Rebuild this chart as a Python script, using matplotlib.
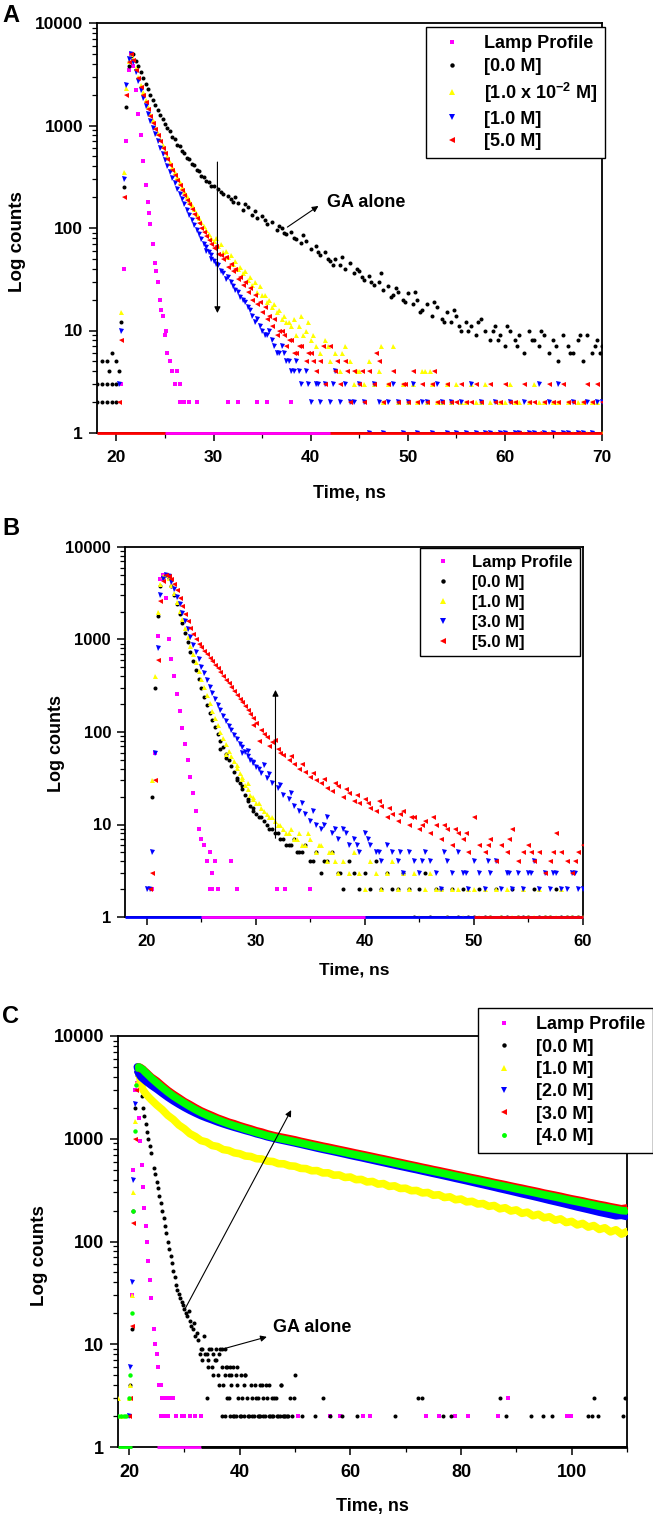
import numpy as np
import matplotlib
matplotlib.use("Agg")
import matplotlib.pyplot as plt
from matplotlib.ticker import FixedLocator, MultipleLocator, LogLocator, NullFormatter, FuncFormatter

# ---------------------------------------------------------------- DATA
# shared early-time channel grid (ns) for panels A and B
t_early = [18.0, 18.5, 19.0, 19.5, 20.0,
           20.25, 20.5, 20.75, 21.0, 21.25, 21.5, 21.75, 22.0, 22.25, 22.5,
           22.75, 23.0, 23.25, 23.5, 23.75, 24.0, 24.25, 24.5, 24.75, 25.0,
           25.25, 25.5, 25.75, 26.0, 26.25, 26.5, 26.75, 27.0, 27.25, 27.5,
           27.75, 28.0, 28.25, 28.5, 28.75, 29.0, 29.25, 29.5, 29.75, 30.0]
tA_tail = [30.5, 31.0, 31.5, 32.0, 32.5, 33.0, 33.5, 34.0, 34.5, 35.0,
           35.5, 36.0, 36.5, 37.0, 37.5, 38.0, 38.5, 39.0, 39.5, 40.0,
           40.5, 41.0, 41.5, 42.0, 42.5, 43.0, 43.5, 44.0, 44.5, 45.0,
           45.5, 46.0, 46.5, 47.0, 47.5, 48.0, 48.5, 49.0, 49.5, 50.0,
           50.5, 51.0, 51.5, 52.0, 52.5, 53.0, 53.5, 54.0, 54.5, 55.0,
           55.5, 56.0, 56.5, 57.0, 57.5, 58.0, 58.5, 59.0, 59.5, 60.0,
           60.5, 61.0, 61.5, 62.0, 62.5, 63.0, 63.5, 64.0, 64.5, 65.0,
           65.5, 66.0, 66.5, 67.0, 67.5, 68.0, 68.5, 69.0, 69.5, 70.0]
tB_tail = [30.5, 31.0, 31.5, 32.0, 32.5, 33.0, 33.5, 34.0, 34.5, 35.0,
           35.5, 36.0, 36.5, 37.0, 37.5, 38.0, 38.5, 39.0, 39.5, 40.0,
           40.5, 41.0, 41.5, 42.0, 42.5, 43.0, 43.5, 44.0, 44.5, 45.0,
           45.5, 46.0, 46.5, 47.0, 47.5, 48.0, 48.5, 49.0, 49.5, 50.0,
           50.5, 51.0, 51.5, 52.0, 52.5, 53.0, 53.5, 54.0, 54.5, 55.0,
           55.5, 56.0, 56.5, 57.0, 57.5, 58.0, 58.5, 59.0, 59.5, 60.0]

# ---- Panel A
labels_A = ["Lamp Profile", "[0.0 M]", "[1.0 x 10$^{-2}$ M]", "[1.0 M]", "[5.0 M]"]
lamp_A_early = [0, 0, 0, 0, 0,
                0, 3, 40, 700, 3500, 5000, 3800, 2200, 1300, 800,
                450, 260, 180, 110, 70, 46, 30, 20, 14, 9,
                6, 5, 4, 3, 4, 2, 0, 2, 0, 0,
                0, 0, 2, 0, 0, 0, 0, 0, 0, 0]
lamp_A_extra_t = [31.5, 32.5, 34.5, 35.5, 38.0, 26.5, 27.5, 23.4, 24.1, 24.6, 25.1]
lamp_A_extra_c = [2, 2, 2, 2, 2, 3, 2, 140, 38, 16, 10]
black_A_early = [3, 5, 5, 6, 5,
                 4, 12, 250, 1500, 3800, 4800, 5000, 4300, 3800, 3300,
                 2900, 2550, 2250, 2000, 1780, 1600, 1420, 1280, 1150, 1040,
                 950, 880, 770, 735, 650, 625, 560, 540, 480, 470,
                 420, 410, 370, 360, 320, 318, 290, 282, 255, 258]
black_A_tail = [240, 215, 205, 180, 175, 150, 160, 135, 125, 130,
                110, 115, 95, 100, 88, 92, 78, 72, 75, 62,
                66, 55, 58, 48, 50, 44, 40, 46, 36, 38,
                31, 34, 28, 30, 25, 27, 22, 24, 20, 23,
                18, 20, 16, 18, 14, 17, 13, 15, 12, 14,
                10, 12, 11, 9, 13, 10, 8, 11, 9, 7,
                10, 8, 9, 6, 10, 8, 7, 9, 6, 8,
                5, 9, 7, 6, 8, 5, 9, 6, 8, 7]
black_A_extra_t = [18.0, 18.5, 18.5, 19.0, 19.0, 19.5, 19.5, 20.0, 20.0, 19.25,
                   33.25, 35.25, 36.75, 38.25, 39.25, 40.75, 41.75, 43.25, 44.75, 46.25,
                   47.25, 48.75, 49.75, 50.75, 51.25, 52.75, 53.75, 54.75, 56.25, 57.25,
                   58.75, 60.25, 61.25, 62.75, 63.75, 65.25, 66.75, 67.75, 69.25, 69.75,
                   30.75, 31.75, 32.25, 34.25, 37.25, 42.25, 45.25, 48.25, 55.25, 59.25]
black_A_extra_c = [2, 2, 3, 2, 3, 3, 2, 3, 2, 4,
                   170, 120, 105, 80, 85, 58, 50, 52, 40, 30,
                   36, 26, 19, 24, 15, 19, 12, 16, 10, 12,
                   10, 11, 7, 8, 10, 7, 6, 9, 7, 6,
                   225, 190, 200, 145, 90, 44, 33, 21, 11, 8]
yellow_A_early = [0, 0, 0, 0, 0,
                  0, 15, 350, 2300, 4300, 5000, 4500, 3600, 3000, 2500,
                  2100, 1780, 1520, 1300, 1120, 970, 850, 740, 650, 570,
                  500, 445, 395, 350, 315, 280, 252, 228, 205, 186,
                  168, 152, 138, 126, 114, 104, 95, 88, 80, 74]
yellow_A_tail = [66, 58, 52, 45, 40, 36, 31, 28, 24, 22,
                 19, 17, 15, 13, 12, 11, 9, 14, 10, 8,
                 7, 6, 8, 5, 6, 4, 7, 5, 3, 4,
                 3, 5, 3, 4, 2, 3, 7, 2, 3, 2,
                 3, 2, 4, 2, 3, 2, 2, 3, 2, 3,
                 2, 2, 3, 2, 2, 3, 2, 1, 2, 2,
                 3, 2, 2, 1, 2, 3, 2, 2, 1, 2,
                 2, 1, 2, 1, 2, 2, 1, 2, 2, 1]
yellow_A_extra_t = [30.25, 30.75, 31.25, 31.75, 32.25, 32.75, 33.25, 33.75, 34.25, 34.75,
                    35.25, 35.75, 36.25, 36.75, 37.25, 37.75, 38.25, 38.75, 39.25, 39.75,
                    40.25, 41.75, 43.25, 44.75, 47.25, 51.75, 52.25]
yellow_A_extra_c = [80, 70, 60, 55, 48, 42, 38, 33, 30, 27,
                    22, 20, 18, 16, 14, 12, 13, 11, 9, 12,
                    9, 7, 6, 4, 7, 4, 4]
blue_A_early = [0, 0, 0, 0, 0,
                3, 10, 300, 2500, 4500, 5000, 4200, 3300, 2700, 2200,
                1850, 1550, 1300, 1100, 950, 820, 700, 610, 530, 460,
                400, 350, 310, 275, 240, 215, 190, 170, 150, 135,
                120, 108, 96, 88, 78, 70, 65, 58, 54, 48]
blue_A_tail = [44, 36, 33, 27, 24, 20, 17, 14, 13, 10,
               9, 8, 6, 7, 5, 4, 5, 3, 4, 2,
               3, 2, 3, 2, 4, 2, 3, 2, 2, 3,
               2, 1, 3, 2, 1, 2, 3, 2, 1, 2,
               3, 1, 2, 2, 1, 3, 2, 1, 2, 1,
               2, 1, 3, 1, 2, 1, 1, 2, 1, 1,
               2, 1, 1, 2, 1, 1, 3, 1, 2, 1,
               3, 1, 1, 2, 1, 1, 2, 1, 2, 2]
blue_A_extra_t = [29.25, 29.75, 30.25, 30.75, 31.25, 31.75, 32.25, 32.75, 33.25, 33.75,
                  34.25, 34.75, 35.25, 35.75, 36.25, 36.75, 37.25, 37.75, 38.25, 38.75,
                  39.75, 40.75, 42.25]
blue_A_extra_c = [60, 50, 45, 38, 32, 30, 25, 21, 19, 16,
                  12, 11, 9, 10, 7, 6, 6, 5, 4, 4,
                  3, 3, 3]
red_A_early = [0, 0, 0, 0, 0,
               2, 8, 200, 2000, 4200, 5000, 4400, 3500, 2900, 2400,
               2000, 1700, 1450, 1230, 1060, 920, 800, 700, 610, 540,
               470, 415, 370, 330, 295, 262, 235, 210, 188, 170,
               152, 138, 124, 112, 100, 92, 84, 76, 70, 64]
red_A_tail = [56, 50, 42, 38, 32, 28, 24, 20, 18, 15,
              13, 11, 9, 10, 7, 8, 6, 7, 5, 6,
              4, 5, 3, 7, 4, 3, 5, 2, 4, 3,
              2, 4, 3, 5, 2, 3, 4, 2, 3, 2,
              4, 2, 3, 2, 3, 2, 2, 3, 2, 2,
              3, 2, 2, 3, 2, 1, 3, 2, 2, 3,
              2, 2, 1, 3, 2, 2, 1, 2, 3, 2,
              2, 3, 2, 2, 1, 2, 3, 2, 3, 2]
red_A_extra_t = [30.25, 30.75, 31.25, 31.75, 32.25, 32.75, 33.25, 33.75, 34.25, 34.75,
                 35.25, 35.75, 36.25, 36.75, 37.25, 37.75, 38.25, 38.75, 39.75, 40.25,
                 41.25, 42.75, 43.75, 45.25, 46.75, 49.75, 52.75]
red_A_extra_c = [66, 55, 52, 45, 40, 33, 30, 26, 22, 19,
                 17, 14, 13, 10, 9, 8, 6, 7, 6, 5,
                 7, 5, 4, 4, 6, 3, 4]
floor_A_red_t = [18.0, 70.0]
floor_A_magenta_t = [25.0, 42.0]

# ---- Panel B
labels_B = ["Lamp Profile", "[0.0 M]", "[1.0 M]", "[3.0 M]", "[5.0 M]"]
lamp_B_early = [0, 0, 0, 0, 0,
                0, 2, 60, 1100, 4500, 5000, 2800, 1000, 620, 400,
                260, 170, 110, 75, 50, 33, 22, 14, 9, 7,
                6, 4, 5, 3, 4, 2, 0, 0, 0, 0,
                0, 0, 2, 0, 0, 0, 0, 0, 0, 0]
lamp_B_extra_t = [25.75, 26.0, 26.5, 27.75, 28.25, 31.9, 32.7, 35.0]
lamp_B_extra_c = [2, 2, 2, 4, 2, 2, 2, 2]
black_B_early = [0, 0, 0, 0, 0,
                 0, 20, 300, 1800, 3800, 4700, 5000, 4600, 3800, 3000,
                 2400, 1900, 1500, 1180, 930, 740, 590, 470, 370, 300,
                 240, 195, 160, 135, 112, 95, 80, 68, 58, 50,
                 43, 37, 32, 28, 24, 21, 19, 16, 15, 13]
black_B_tail = [12, 10, 9, 8, 7, 6, 7, 5, 6, 4,
                5, 3, 4, 5, 3, 2, 4, 3, 2, 3,
                2, 4, 2, 3, 2, 2, 3, 2, 1, 2,
                3, 1, 2, 2, 1, 2, 1, 2, 1, 1,
                2, 1, 1, 2, 1, 1, 2, 1, 1, 1,
                2, 1, 1, 1, 2, 1, 1, 1, 1, 1]
black_B_extra_t = [26.75, 27.25, 28.25, 28.75, 29.25, 29.75, 30.25, 30.75, 31.25, 31.75,
                   32.25, 32.75, 33.25, 33.75, 34.25, 35.25, 36.25, 37.75]
black_B_extra_c = [65, 52, 30, 26, 18, 14, 12, 11, 9, 8,
                   7, 6, 6, 5, 5, 4, 4, 3]
yellow_B_early = [0, 0, 0, 0, 0,
                  0, 30, 400, 2000, 4000, 4800, 5000, 4600, 3900, 3150,
                  2550, 2050, 1650, 1320, 1060, 860, 700, 570, 460, 375,
                  305, 250, 205, 170, 142, 120, 100, 86, 74, 63,
                  55, 48, 41, 36, 31, 27, 24, 21, 19, 17]
yellow_B_tail = [15, 13, 12, 10, 9, 8, 7, 8, 6, 7,
                 5, 6, 4, 5, 3, 4, 3, 5, 3, 2,
                 4, 3, 2, 3, 4, 2, 3, 2, 3, 1,
                 2, 3, 2, 2, 1, 2, 2, 1, 2, 2,
                 1, 2, 1, 2, 1, 2, 1, 1, 2, 1,
                 1, 2, 1, 1, 1, 2, 1, 1, 1, 1]
yellow_B_extra_t = [27.25, 28.25, 28.75, 29.25, 29.75, 30.25, 30.75, 31.25, 31.75, 32.25,
                    32.75, 33.25, 33.75, 34.25, 34.75, 35.75, 36.75, 37.25]
yellow_B_extra_c = [58, 44, 33, 28, 20, 17, 14, 12, 11, 10,
                    8, 9, 7, 6, 8, 6, 5, 4]
blue_B_early = [0, 0, 0, 0, 2,
                2, 5, 60, 800, 3000, 4500, 5000, 4800, 4200, 3500,
                2900, 2400, 1950, 1600, 1300, 1060, 880, 730, 610, 510,
                430, 365, 310, 265, 228, 198, 172, 150, 132, 117,
                104, 93, 84, 75, 68, 61, 55, 50, 46, 42]
blue_B_tail = [36, 32, 28, 25, 21, 19, 16, 14, 13, 11,
               10, 9, 12, 8, 7, 9, 6, 7, 5, 8,
               6, 5, 4, 6, 5, 4, 3, 5, 4, 3,
               5, 4, 3, 2, 4, 3, 5, 3, 2, 4,
               3, 2, 3, 4, 2, 3, 2, 3, 2, 3,
               4, 2, 3, 2, 3, 2, 2, 3, 2, 2]
blue_B_extra_t = [31.25, 32.25, 33.25, 34.25, 35.25, 36.25, 37.25, 38.25, 39.25, 40.25,
                  41.25, 43.25, 45.25, 47.25, 49.25, 51.25, 53.25, 55.25, 57.25, 59.25,
                  28.75, 29.25, 29.75, 30.25, 30.75]
blue_B_extra_c = [35, 27, 22, 17, 14, 10, 9, 8, 6, 7,
                  5, 5, 4, 5, 3, 4, 3, 3, 3, 3,
                  60, 62, 47, 40, 44]
red_B_early = [0, 0, 0, 0, 0,
               2, 3, 30, 600, 2600, 4300, 5000, 4900, 4500, 4000,
               3400, 2800, 2300, 1900, 1580, 1330, 1150, 1000, 900, 820,
               750, 690, 635, 585, 535, 490, 445, 400, 365, 335,
               305, 275, 250, 230, 210, 190, 172, 155, 140, 125]
red_B_tail = [105, 88, 78, 66, 56, 50, 45, 40, 37, 33,
              30, 28, 25, 23, 26, 20, 22, 18, 17, 19,
              15, 14, 16, 12, 13, 11, 14, 10, 12, 9,
              11, 8, 10, 7, 9, 6, 8, 7, 5, 12,
              6, 5, 7, 4, 6, 5, 9, 4, 5, 6,
              4, 5, 3, 4, 8, 5, 4, 3, 5, 6]
red_B_extra_t = [33.25, 34.25, 35.25, 36.25, 37.25, 38.25, 39.25, 40.25, 41.25, 42.25,
                 43.25, 44.25, 45.25, 46.25, 47.25, 48.25, 49.25, 51.25, 53.25, 55.25,
                 57.25, 59.25, 29.75, 30.25, 30.75, 31.25, 31.75, 32.25]
red_B_extra_c = [55, 45, 36, 31, 28, 24, 21, 17, 18, 15,
                 13, 12, 10, 12, 10, 9, 8, 6, 7, 5,
                 5, 4, 120, 80, 95, 70, 82, 60]
floor_B_blue_t = [18.0, 60.0]
floor_B_magenta_t = [25.0, 40.0]
floor_B_red_t = [50.0, 60.0]

# ---- Panel C
labels_C = ["Lamp Profile", "[0.0 M]", "[1.0 M]", "[2.0 M]", "[3.0 M]", "[4.0 M]"]
tC_early = [18.0, 18.5, 19.0, 19.5, 20.0,
            20.25, 20.5, 20.75, 21.0, 21.25, 21.5, 21.75, 22.0, 22.25, 22.5,
            22.75, 23.0, 23.25, 23.5, 23.75, 24.0]
tC_fine = [24.5, 25.0, 25.5, 26.0, 26.5, 27.0, 27.5, 28.0, 28.5, 29.0,
           29.5, 30.0, 30.5, 31.0, 31.5, 32.0, 32.5, 33.0, 33.5, 34.0,
           34.5, 35.0, 35.5, 36.0, 36.5, 37.0, 37.5, 38.0, 38.5, 39.0,
           39.5, 40.0, 40.5, 41.0, 41.5, 42.0, 42.5, 43.0, 43.5, 44.0,
           44.5, 45.0, 45.5, 46.0, 46.5, 47.0, 47.5, 48.0, 48.5, 49.0,
           49.5, 50.0]
tC_coarse = [25, 26, 27, 28, 29, 30, 31, 32, 33, 34,
             35, 36, 37, 38, 39, 40, 41, 42, 43, 44,
             45, 46, 47, 48, 49, 50, 51, 52, 53, 54,
             55, 56, 57, 58, 59, 60, 61, 62, 63, 64,
             65, 66, 67, 68, 69, 70, 71, 72, 73, 74,
             75, 76, 77, 78, 79, 80, 81, 82, 83, 84,
             85, 86, 87, 88, 89, 90, 91, 92, 93, 94,
             95, 96, 97, 98, 99, 100, 101, 102, 103, 104,
             105, 106, 107, 108, 109, 110]
lamp_C_early = [0, 0, 0, 0, 0, 2, 30, 500, 3000, 5000, 3500, 1600, 950, 560, 340,
                210, 140, 100, 65, 42, 28]
lamp_C_extra_t = [24.5, 24.75, 25.0, 25.25, 25.5, 25.75, 26.0, 26.5, 27.0, 27.5, 28.0,
                  25.75, 26.25, 27.0, 28.5, 29.5, 30.0, 31.0, 32.0, 33.0,
                  50.6, 56.3, 58.2, 62.3, 63.5, 73.7, 76.0, 79.0, 81.3, 86.6, 88.5, 99.1, 99.9]
lamp_C_extra_c = [14, 10, 8, 6, 4, 4, 3, 3, 3, 3, 3,
                  2, 2, 2, 2, 2, 2, 2, 2, 2,
                  2, 2, 2, 2, 2, 2, 2, 2, 2, 2, 3, 2, 2]
black_C_early = [0, 0, 0, 0, 0, 4, 14, 200, 2000, 4500, 5000, 4200, 3300, 2600, 2000,
                 1650, 1380, 1170, 1000, 850, 730]
black_C_fine = [520, 380, 275, 200, 140, 100, 72, 52, 38, 31,
                26, 22, 19, 17, 14, 12, 11, 9, 12, 8,
                9, 6, 7, 5, 9, 4, 6, 3, 5, 2,
                4, 2, 3, 5, 2, 4, 2, 3, 2, 4,
                2, 3, 2, 2, 3, 2, 4, 2, 2, 3,
                2, 5]
black_C_extra_t = [33.25, 34.75, 35.75, 36.75, 37.25, 32.75, 33.75, 35.25, 36.25,
                   33.25, 34.25, 35.75, 34.25, 36.75, 37.75, 38.25, 38.75, 39.5,
                   35.25, 37.25, 38.0, 39.25, 40.25, 41.0,
                   36.25, 38.5, 40.75, 42.75, 43.75, 44.75, 45.25, 47.5,
                   34.0, 37.75, 39.75, 41.25, 42.25, 43.25, 44.25, 45.75, 46.25, 49.75,
                   36.75, 37.25, 38.25, 38.75, 39.25, 40.25, 40.75, 41.75, 42.25, 43.25,
                   43.75, 44.25, 45.25, 45.75, 46.75, 47.25, 47.75, 48.25, 48.75,
                   51.3, 53.6, 56.3, 58.5, 61.2, 68.0, 76.7, 78.2, 88.1, 92.6,
                   94.9, 96.4, 102.9, 103.6, 104.8, 109.3,
                   55.1, 72.2, 72.9, 87.0, 104.0, 109.7,
                   24.75, 25.25, 25.75, 26.25, 26.75, 27.25, 27.75, 28.25, 28.75, 29.25,
                   29.75, 30.25, 30.75, 31.25, 31.75, 32.25]
black_C_extra_c = [9, 9, 9, 9, 9, 8, 8, 8, 8,
                   7, 7, 7, 6, 6, 6, 6, 6, 6,
                   5, 5, 5, 5, 5, 5,
                   4, 4, 4, 4, 4, 4, 4, 4,
                   3, 3, 3, 3, 3, 3, 3, 3, 3, 3,
                   2, 2, 2, 2, 2, 2, 2, 2, 2, 2,
                   2, 2, 2, 2, 2, 2, 2, 2, 2,
                   2, 2, 2, 2, 2, 2, 2, 2, 2, 2,
                   2, 2, 2, 2, 2, 2,
                   3, 3, 3, 3, 3, 3,
                   450, 330, 235, 170, 120, 85, 62, 45, 34, 28,
                   24, 20, 21, 15, 16, 13]
yellow_C_early = [3, 2, 0, 0, 3, 4, 30, 300, 1500, 3500, 4300, 4500, 3800, 3300, 3000,
                  2870, 2750, 2650, 2560, 2480, 2400]
yellow_C_late = [2130, 1920, 1690, 1540, 1360, 1250, 1120, 1050, 960, 930,
                 860, 840, 785, 770, 730, 715, 680, 672, 640, 635,
                 606, 600, 572, 570, 545, 540, 515, 512, 488, 490,
                 465, 466, 442, 444, 420, 424, 400, 402, 380, 384,
                 362, 366, 344, 348, 328, 330, 312, 314, 297, 300,
                 282, 285, 268, 272, 255, 259, 243, 246, 232, 234,
                 220, 224, 208, 213, 198, 203, 188, 193, 178, 184,
                 170, 174, 161, 166, 153, 157, 145, 150, 138, 143,
                 131, 136, 124, 130, 118, 125]
blue_C_early = [0, 0, 0, 0, 2, 6, 40, 400, 2200, 4300, 5000, 4500, 4100, 3950, 3850,
                3750, 3650, 3560, 3480, 3400, 3320]
blue_C_late = [3050, 2780, 2540, 2340, 2170, 2020, 1890, 1780, 1680, 1600,
               1530, 1460, 1400, 1345, 1295, 1250, 1205, 1165, 1120, 1085,
               1045, 1015, 985, 960, 935, 910, 885, 860, 836, 812,
               790, 770, 750, 730, 710, 690, 672, 655, 637, 620,
               603, 587, 571, 556, 541, 527, 513, 500, 486, 473,
               460, 448, 436, 424, 412, 401, 390, 379, 368, 358,
               348, 338, 328, 319, 310, 301, 292, 284, 276, 268,
               260, 252, 245, 238, 231, 224, 217, 211, 205, 199,
               193, 188, 183, 178, 180, 175]
red_C_early = [0, 0, 0, 0, 2, 3, 15, 150, 1000, 3000, 4700, 5000, 4950, 4850, 4750,
               4600, 4480, 4350, 4220, 4100, 3980]
red_C_late = [3650, 3280, 2960, 2710, 2500, 2300, 2150, 2000, 1870, 1770,
              1680, 1590, 1520, 1450, 1400, 1340, 1290, 1245, 1195, 1160,
              1115, 1080, 1050, 1025, 1000, 975, 945, 920, 895, 872,
              848, 828, 806, 785, 765, 745, 725, 707, 689, 671,
              653, 637, 620, 603, 588, 572, 557, 543, 528, 515,
              501, 489, 476, 464, 451, 440, 428, 417, 407, 396,
              386, 375, 366, 357, 347, 338, 330, 321, 313, 305,
              296, 289, 282, 275, 267, 260, 254, 248, 241, 235,
              229, 224, 218, 213, 208, 212]
green_C_early = [2, 2, 2, 2, 3, 5, 20, 200, 1200, 3300, 4800, 5000, 4900, 4800, 4700,
                 4550, 4400, 4280, 4150, 4030, 3900]
green_C_late = [3500, 3150, 2850, 2600, 2400, 2220, 2060, 1920, 1800, 1700,
                1610, 1530, 1460, 1395, 1340, 1290, 1240, 1195, 1150, 1110,
                1070, 1040, 1010, 985, 960, 935, 910, 885, 860, 838,
                815, 795, 775, 755, 735, 715, 697, 680, 662, 645,
                628, 612, 596, 580, 565, 550, 536, 522, 508, 495,
                482, 470, 458, 446, 434, 423, 412, 401, 391, 381,
                371, 361, 352, 343, 334, 325, 317, 309, 301, 293,
                285, 278, 271, 264, 257, 250, 244, 238, 232, 226,
                220, 215, 210, 205, 200, 198]
floor_C_green_t = [18.0, 20.5]
floor_C_magenta_t = [25.0, 33.0]
floor_C_black_t = [33.0, 110.0]

floor_count = 1

# annotation anchors (data units)
arrowA_down = ((30.4, 440), (30.4, 14.8))
arrowA_ga = ((37.6, 102), (40.8, 164))
textA_ga = (41.65, 179)
arrowB_up = ((31.8, 7.1), (31.8, 285))
arrowC_up = ((30.0, 21.5), (49.3, 1900))
arrowC_ga = ((37.3, 9.1), (44.9, 11.8))
textC_ga = (46.0, 14.4)

# ---------------------------------------------------------------- STYLE
plt.rcParams["font.family"] = ["Liberation Sans", "DejaVu Sans"]
plt.rcParams["font.weight"] = "bold"
plt.rcParams["axes.labelweight"] = "bold"
plt.rcParams["mathtext.default"] = "regular"

MAG, BLK, YEL, BLU, RED, GRN = "#ff00ff", "#000000", "#ffff00", "#0000ff", "#ff0000", "#00ff00"
styles = {
    "lamp": dict(marker="s", color=MAG, ms=2.6),
    "black": dict(marker="o", color=BLK, ms=2.9),
    "yellow": dict(marker="^", color=YEL, ms=3.6),
    "blue": dict(marker="v", color=BLU, ms=3.6),
    "red": dict(marker="<", color=RED, ms=3.6),
    "green": dict(marker="o", color=GRN, ms=3.2),
}


def check(t, c):
    if len(t) != len(c):
        raise ValueError("length mismatch %d vs %d" % (len(t), len(c)))


def pts(ax, t, c, key, label=None, zorder=3):
    check(t, c)
    t = np.asarray(t, float)
    c = np.asarray(c, float)
    m = c > 0
    st = styles[key]
    ax.plot(t[m], c[m], linestyle="none", marker=st["marker"], color=st["color"],
            ms=st["ms"], mew=0, label=label, zorder=zorder)


def band(ax, t, c, key, lw, zorder=3):
    t = np.asarray(t, float)
    c = np.asarray(c, float)
    k = int(np.argmax(c))
    ax.plot(t[k:], c[k:], color=styles[key]["color"], lw=lw, solid_capstyle="round",
            solid_joinstyle="round", zorder=zorder)


def floor(ax, t, color):
    ax.plot(t, [floor_count] * len(t), color=color, lw=2.0, clip_on=False, zorder=4,
            solid_capstyle="butt")


def style_axes(ax, xlim, xmajor, xminor, fs):
    ax.set_yscale("log")
    ax.set_xlim(*xlim)
    ax.set_ylim(1, 10000)
    ax.xaxis.set_major_locator(MultipleLocator(xmajor))
    ax.xaxis.set_minor_locator(MultipleLocator(xminor))
    ax.yaxis.set_major_locator(FixedLocator([1, 10, 100, 1000, 10000]))
    ax.yaxis.set_minor_locator(LogLocator(base=10, subs=np.arange(2, 10)))
    ax.yaxis.set_minor_formatter(NullFormatter())
    ax.yaxis.set_major_formatter(FuncFormatter(lambda v, p: "%d" % round(v)))
    ax.tick_params(which="major", direction="out", length=6, width=1.1,
                   top=False, right=False, labelsize=fs)
    ax.tick_params(which="minor", direction="out", length=3.5, width=0.9,
                   top=False, right=False)
    ax.tick_params(axis="x", which="major", pad=6)
    ax.tick_params(axis="y", which="major", pad=4)
    for s in ax.spines.values():
        s.set_linewidth(1.3)


def arrow(ax, start, end):
    ax.annotate("", xy=end, xytext=start,
                arrowprops=dict(arrowstyle="-|>", color="black", lw=0.8,
                                mutation_scale=9, shrinkA=0, shrinkB=0), zorder=6)


fig = plt.figure(figsize=(6.53, 15.15), dpi=100)
W, H = 653.0, 1515.0


def add_axes(l, t, r, b):
    return fig.add_axes([l / W, 1 - b / H, (r - l) / W, (b - t) / H])


def legend(ax, x, y, fs, pad, sp):
    h, l = ax.get_legend_handles_labels()
    lg = fig.legend(h, l, loc="upper left", bbox_to_anchor=(x / W, 1 - y / H),
                    fontsize=fs, frameon=True, fancybox=False, edgecolor="black",
                    framealpha=1, borderpad=pad, labelspacing=sp, handlelength=2.0,
                    handletextpad=0.75, borderaxespad=0, markerscale=1.1, numpoints=1)
    lg.get_frame().set_linewidth(1.0)
    return lg


# ---------------------------------------------------------------- PANEL A
axA = add_axes(97, 23, 602, 433)
floor(axA, floor_A_red_t, RED)
floor(axA, floor_A_magenta_t, MAG)
pts(axA, t_early, lamp_A_early, "lamp", labels_A[0])
pts(axA, lamp_A_extra_t, lamp_A_extra_c, "lamp")
pts(axA, t_early, black_A_early, "black", labels_A[1])
pts(axA, tA_tail, black_A_tail, "black")
pts(axA, black_A_extra_t, black_A_extra_c, "black")
pts(axA, t_early, yellow_A_early, "yellow", labels_A[2])
pts(axA, tA_tail, yellow_A_tail, "yellow")
pts(axA, yellow_A_extra_t, yellow_A_extra_c, "yellow")
pts(axA, t_early, blue_A_early, "blue", labels_A[3])
pts(axA, tA_tail, blue_A_tail, "blue")
pts(axA, blue_A_extra_t, blue_A_extra_c, "blue")
pts(axA, t_early, red_A_early, "red", labels_A[4])
pts(axA, tA_tail, red_A_tail, "red")
pts(axA, red_A_extra_t, red_A_extra_c, "red")
style_axes(axA, (18, 70), 10, 5, 12.5)
arrow(axA, *arrowA_down)
arrow(axA, *arrowA_ga)
axA.text(textA_ga[0], textA_ga[1], "GA alone", fontsize=13, fontweight="bold",
         ha="left", va="center")
axA.set_xlabel("Time, ns", fontsize=13)
axA.set_ylabel("Log counts", fontsize=13.5)
axA.xaxis.set_label_coords(0.5, -0.127)
axA.yaxis.set_label_coords(-0.1406, 0.468)
legend(axA, 426, 27, 13, 0.45, 0.32)

# ---------------------------------------------------------------- PANEL B
axB = add_axes(125, 547, 583, 917)
floor(axB, floor_B_blue_t, BLU)
floor(axB, floor_B_magenta_t, MAG)
floor(axB, floor_B_red_t, RED)
pts(axB, t_early, lamp_B_early, "lamp", labels_B[0])
pts(axB, lamp_B_extra_t, lamp_B_extra_c, "lamp")
pts(axB, t_early, black_B_early, "black", labels_B[1])
pts(axB, tB_tail, black_B_tail, "black")
pts(axB, black_B_extra_t, black_B_extra_c, "black")
pts(axB, t_early, yellow_B_early, "yellow", labels_B[2])
pts(axB, tB_tail, yellow_B_tail, "yellow")
pts(axB, yellow_B_extra_t, yellow_B_extra_c, "yellow")
pts(axB, t_early, blue_B_early, "blue", labels_B[3])
pts(axB, tB_tail, blue_B_tail, "blue")
pts(axB, blue_B_extra_t, blue_B_extra_c, "blue")
pts(axB, t_early, red_B_early, "red", labels_B[4])
pts(axB, tB_tail, red_B_tail, "red")
pts(axB, red_B_extra_t, red_B_extra_c, "red")
style_axes(axB, (18, 60), 10, 5, 12)
arrow(axB, *arrowB_up)
axB.set_xlabel("Time, ns", fontsize=12.5)
axB.set_ylabel("Log counts", fontsize=13)
axB.xaxis.set_label_coords(0.5, -0.124)
axB.yaxis.set_label_coords(-0.131, 0.47)
legend(axB, 420, 548, 12, 0.4, 0.3)

# ---------------------------------------------------------------- PANEL C
axC = add_axes(118, 1036, 627, 1447)
floor(axC, floor_C_green_t, GRN)
floor(axC, floor_C_magenta_t, MAG)
floor(axC, floor_C_black_t, BLK)
pts(axC, tC_early, lamp_C_early, "lamp", labels_C[0])
pts(axC, lamp_C_extra_t, lamp_C_extra_c, "lamp")
pts(axC, tC_early, black_C_early, "black", labels_C[1])
pts(axC, tC_fine, black_C_fine, "black")
pts(axC, black_C_extra_t, black_C_extra_c, "black")
band_lw = 5.5
for key, early, late, lab in [("yellow", yellow_C_early, yellow_C_late, labels_C[2]),
                              ("blue", blue_C_early, blue_C_late, labels_C[3]),
                              ("red", red_C_early, red_C_late, labels_C[4]),
                              ("green", green_C_early, green_C_late, labels_C[5])]:
    check(tC_early, early)
    check(tC_coarse, late)
    band(axC, list(tC_early) + list(tC_coarse), list(early) + list(late), key, band_lw)
    pts(axC, tC_early, early, key, lab)
    pts(axC, tC_coarse, late, key)
style_axes(axC, (18, 110), 20, 10, 13)
arrow(axC, *arrowC_up)
arrow(axC, *arrowC_ga)
axC.text(textC_ga[0], textC_ga[1], "GA alone", fontsize=13, fontweight="bold",
         ha="left", va="center")
axC.set_xlabel("Time, ns", fontsize=13)
axC.set_ylabel("Log counts", fontsize=13.5)
axC.xaxis.set_label_coords(0.5, -0.124)
axC.yaxis.set_label_coords(-0.1375, 0.467)
legend(axC, 478, 1008, 13, 0.45, 0.3)

# panel letters
for letter, top in [("A", 4), ("B", 517), ("C", 1005)]:
    fig.text(2 / W, 1 - top / H, letter, fontsize=17, fontweight="bold", ha="left", va="top")

fig.savefig("out.png", dpi=100)
